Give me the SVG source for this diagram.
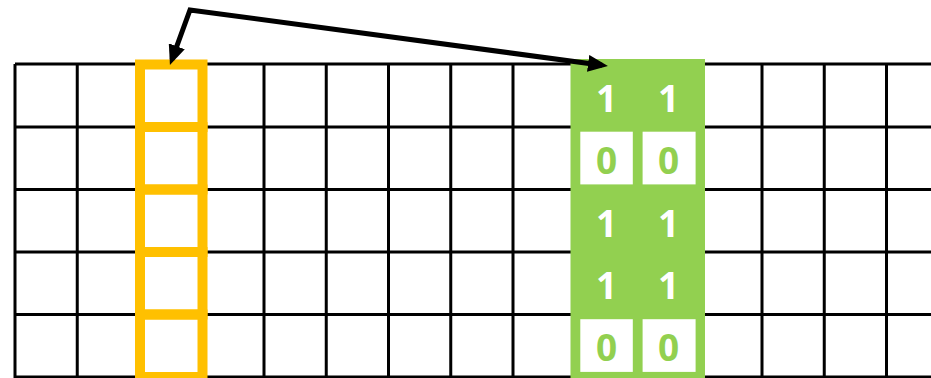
<svg xmlns="http://www.w3.org/2000/svg" width="931" height="378" viewBox="0 0 931 378">
  <style>
    .grid { stroke: #000; stroke-width: 3; fill: none; }
    .win { fill: none; stroke: #FFC000; stroke-width: 10; }
    .sel { fill: #92D050; stroke: #92D050; stroke-width: 10; }
    .zero { fill: #fff; }
    .one { fill: #fff; font-family: "Open Sans", "Liberation Sans", sans-serif; font-weight: 700; font-size: 37px; text-anchor: middle; dominant-baseline: central; }
    .zt { fill: #92D050; font-family: "Open Sans", "Liberation Sans", sans-serif; font-weight: 700; font-size: 37px; text-anchor: middle; dominant-baseline: central; }
    .conn { fill: none; stroke: #000; stroke-width: 5; stroke-linejoin: miter; }
  </style>
  <defs>
    <marker id="head" markerUnits="userSpaceOnUse" markerWidth="20" markerHeight="17" refX="14" refY="8.5" orient="auto-start-reverse" viewBox="0 0 20 17">
      <path d="M0,0 L20,8.5 L0,17 z" fill="#000"/>
    </marker>
  </defs>
  <rect width="931" height="378" fill="#fff"/>

  <!-- background grid: 62.25 x 62.6 cells -->
  <g id="grid" class="grid">
    <path d="M15,64 H931 M15,127 H931 M15,189.5 H931 M15,252 H931 M15,314.5 H931 M15,377 H931"/>
    <path d="M15,64 V378 M77.25,64 V378 M139.5,64 V378 M201.75,64 V378 M264,64 V378 M326.25,64 V378 M388.5,64 V378 M450.75,64 V378 M513,64 V378 M575.25,64 V378 M637.5,64 V378 M699.75,64 V378 M762,64 V378 M824.25,64 V378 M886.5,64 V378"/>
  </g>

  <!-- highlighted column on the left -->
  <g id="window" class="win">
    <rect x="140" y="64.5" width="62.5" height="62.5"/>
    <rect x="140" y="127" width="62.5" height="62.5"/>
    <rect x="140" y="189.5" width="62.5" height="62.5"/>
    <rect x="140" y="252" width="62.5" height="62.5"/>
    <rect x="140" y="314.5" width="62.5" height="62.5"/>
  </g>

  <!-- two selected columns holding the bit values -->
  <g id="bits">
    <rect class="sel" x="575.5" y="64" width="124.5" height="320"/>
    <rect class="zero" x="580.3" y="131.7" width="52.5" height="52.7"/>
    <rect class="zero" x="642.6" y="131.7" width="53" height="52.7"/>
    <rect class="zero" x="580.3" y="319.2" width="52.5" height="52.7"/>
    <rect class="zero" x="642.6" y="319.2" width="53" height="52.7"/>
    <text class="one" x="606.5" y="97">1</text>
    <text class="one" x="668.5" y="97">1</text>
    <text class="zt" x="606.5" y="159">0</text>
    <text class="zt" x="668.5" y="159">0</text>
    <text class="one" x="606.5" y="222">1</text>
    <text class="one" x="668.5" y="222">1</text>
    <text class="one" x="606.5" y="284">1</text>
    <text class="one" x="668.5" y="284">1</text>
    <text class="zt" x="606.5" y="346">0</text>
    <text class="zt" x="668.5" y="346">0</text>
  </g>

  <!-- double-headed connector -->
  <g id="connectors">
    <path class="conn" d="M172,59.4 L190,10 L602,65.2" marker-start="url(#head)" marker-end="url(#head)"/>
  </g>
</svg>
